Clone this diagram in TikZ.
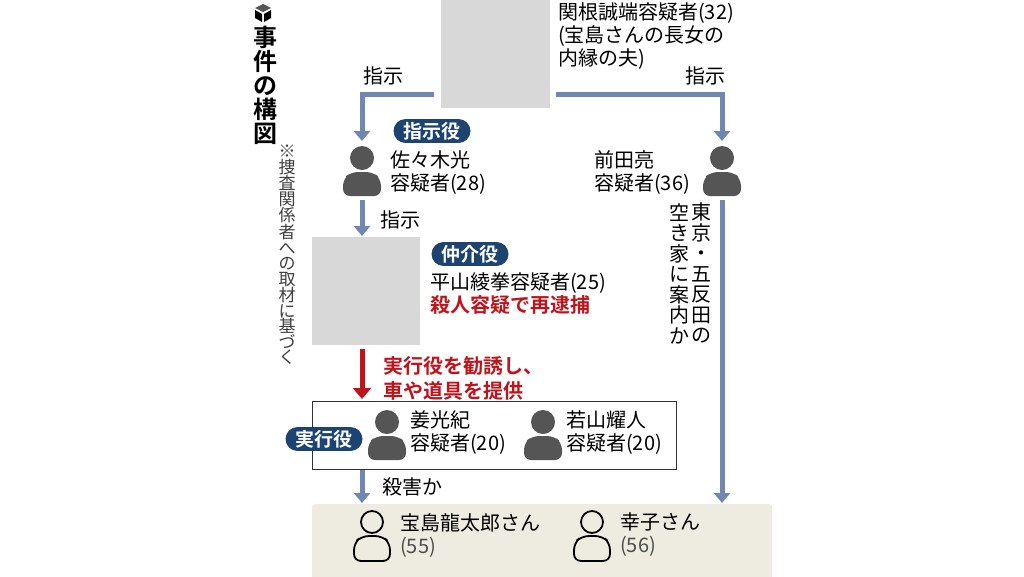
\documentclass[tikz,border=0pt]{standalone}
\usepackage{fontspec}
\setmainfont{Noto Sans CJK JP}[BoldFont={Noto Sans CJK JP Bold}]
\usetikzlibrary{positioning,arrows.meta,calc}
\definecolor{arrowBlue}{HTML}{7088B0}
\definecolor{badgeNavy}{HTML}{1D4370}
\definecolor{iconGrey}{HTML}{555555}
\definecolor{alertRed}{HTML}{C0141C}
\definecolor{victimBg}{HTML}{EEEBE0}
\definecolor{photoGrey}{HTML}{D8D8D8}
\tikzstyle{flow}  =[draw=arrowBlue, line width=5pt, -{Triangle[length=10pt,width=16pt]}]
\tikzstyle{badge} =[fill=badgeNavy, text=white, rounded corners=12pt, inner xsep=10pt, inner ysep=3pt, font=\fontsize{19}{21}\selectfont\bfseries]
\tikzstyle{nameTxt}  =[anchor=north west, inner sep=0pt, align=left, font=\fontsize{20}{23}\selectfont]
\tikzstyle{photo} =[fill=photoGrey, draw=none, inner sep=0pt]
\newcommand{\suspect}[2]{% grey filled person icon, centre x, top y
  \fill[iconGrey] (#1,#2+12) circle (12);
  \fill[iconGrey, rounded corners=7pt] (#1-19,#2+50) -- (#1-19,#2+33) -- (#1-11,#2+26) -- (#1+11,#2+26) -- (#1+19,#2+33) -- (#1+19,#2+50) -- cycle;}
\newcommand{\victim}[2]{% outlined person icon
  \draw[black, line width=1.8pt] (#1,#2+11) circle (11);
  \draw[black, line width=1.8pt, rounded corners=7pt] (#1-18,#2+50) -- (#1-18,#2+32) -- (#1-10,#2+25) -- (#1+10,#2+25) -- (#1+18,#2+32) -- (#1+18,#2+50) -- cycle;}
\begin{document}
\begin{tikzpicture}[x=1pt, y=-1pt]
  \useasboundingbox (0,0) rectangle (1024,576);
  \fill[white] (0,0) rectangle (1024,576);
  % Title column
  \fill[iconGrey] (263,4) -- (271,8) -- (263,12) -- (255,8) -- cycle;
  \fill[black] (255,10) -- (262,14) -- (262,22) -- (255,18) -- cycle;
  \fill[black] (271,10) -- (264,14) -- (264,22) -- (271,18) -- cycle;
  \node (title) [anchor=north, inner sep=0pt, align=center, font=\fontsize{24}{24}\selectfont\bfseries] at (265,26) {事\\件\\の\\構\\図};
  \node (note) [anchor=north, inner sep=0pt, align=center, font=\fontsize{17}{15.5}\selectfont, text=black!75] at (287,145) {※\\捜\\査\\関\\係\\者\\へ\\の\\取\\材\\に\\基\\づ\\く};
  % Mastermind
  \node (sekine) [photo, minimum width=109pt, minimum height=108pt, anchor=north west] at (441,0) {};
  \node (sekineTxt) [nameTxt] at (558,2) {関根誠端容疑者(32)\\(宝島さんの長女の\\内縁の夫)};
  \coordinate (leftTurn) at (362,94);
  \coordinate (rightTurn) at (722,94);
  \coordinate (sasakiTop) at (362,141);
  \coordinate (maedaTop) at (722,141);
  \draw[flow] (434,94) -- (leftTurn) -- (sasakiTop);
  \draw[flow] (556,94) -- (rightTurn) -- (maedaTop);
  \node (orderL) [font=\fontsize{20}{22}\selectfont] at (383,76) {指示};
  \node (orderR) [font=\fontsize{20}{22}\selectfont] at (705,76) {指示};
  % Instructor and guide
  \node (roleOrder) [badge] at (432,131) {指示役};
  \suspect{362}{146}
  \node (sasaki) [nameTxt] at (390,150) {佐々木光\\容疑者(28)};
  \suspect{722}{146}
  \node (maeda) [nameTxt] at (594,150) {前田亮\\容疑者(36)};
  % Vertical note on the right
  \node (guide) [anchor=north, inner sep=0pt, align=center, font=\fontsize{20}{20.5}\selectfont] at (701,203) {東\\京\\・\\五\\反\\田\\の};
  \node (guide2) [anchor=north, inner sep=0pt, align=center, font=\fontsize{20}{20.5}\selectfont] at (679,203) {空\\き\\家\\に\\案\\内\\か};
  % Broker
  \coordinate (sasakiBot) at (362,200);
  \coordinate (hiraTop) at (362,236);
  \draw[flow] (sasakiBot) -- (hiraTop);
  \node (orderM) [font=\fontsize{20}{22}\selectfont] at (400,220) {指示};
  \node (hira) [photo, minimum width=108pt, minimum height=108pt, anchor=north west] at (312,237) {};
  \node (roleBroker) [badge] at (470,254) {仲介役};
  \node (hiraTxt) [nameTxt] at (430,272) {平山綾拳容疑者(25)\\{\color{alertRed}\bfseries 殺人容疑で再逮捕}};
  \coordinate (hiraBot) at (362,349);
  \coordinate (crewTop) at (362,399);
  \draw[draw=alertRed, line width=5pt, -{Triangle[length=11pt,width=18pt]}] (hiraBot) -- (crewTop);
  \node (recruit) [nameTxt, text=alertRed, font=\fontsize{20}{25}\selectfont\bfseries] at (383,356) {実行役を勧誘し、\\車や道具を提供};
  % Executors
  \node (crew) [draw=black!80, line width=1pt, minimum width=364pt, minimum height=68pt, anchor=north west] at (312,401) {};
  \node (roleExec) [badge] at (324,439) {実行役};
  \suspect{387}{410}
  \node (kyo) [nameTxt] at (410,410) {姜光紀\\容疑者(20)};
  \suspect{543}{410}
  \node (waka) [nameTxt] at (566,410) {若山耀人\\容疑者(20)};
  % Victims
  \node (victims) [fill=victimBg, rounded corners=3pt, minimum width=460pt, minimum height=80pt, anchor=north west] at (312,504) {};
  \coordinate (crewBot) at (362,470);
  \coordinate (victimTop) at (362,503);
  \draw[flow] (crewBot) -- (victimTop);
  \node (kill) [font=\fontsize{20}{22}\selectfont] at (412,487) {殺害か};
  \coordinate (maedaBot) at (722,200);
  \coordinate (victimTopR) at (722,503);
  \draw[flow] (maedaBot) -- (victimTopR);
  \victim{372}{511}
  \node (ryutaro) [nameTxt] at (400,513) {宝島龍太郎さん\\{\color{black!70}(55)}};
  \victim{592}{511}
  \node (sachiko) [nameTxt] at (620,513) {幸子さん\\{\color{black!70}(56)}};
\end{tikzpicture}
\end{document}
